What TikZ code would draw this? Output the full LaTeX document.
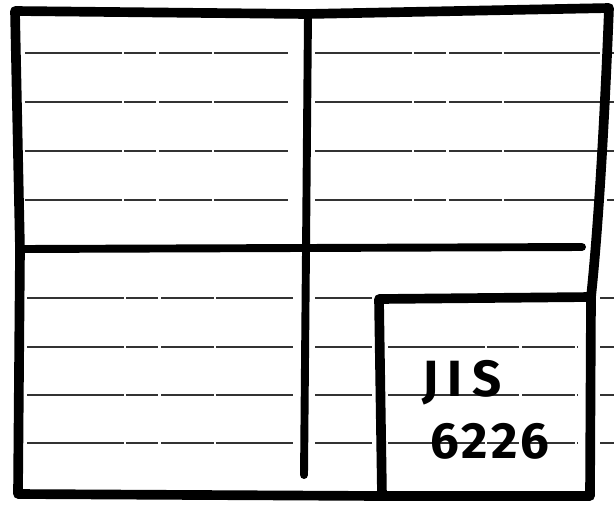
\documentclass[tikz,border=0pt]{standalone}
\usepackage{fontspec}
\usepackage{xcolor}
\usepackage{tikz}
\newfontfamily\handfont{Fira Sans}

\begin{document}
\begin{tikzpicture}[
        x=0.02cm, y=-0.02cm,
        frame/.style={draw=black, line width=5.5pt, line cap=round, line join=round},
        divider/.style={draw=black, line width=4.5pt, line cap=round},
        ruled/.style={draw=black!80, line width=0.9pt, dash pattern=on 55pt off 1.5pt on 18pt off 2pt on 30pt off 1pt},
        scribble/.style={font=\handfont\bfseries\fontsize{29}{31}\selectfont, inner sep=0pt, text=black}
    ]
        \useasboundingbox (0,0) rectangle (614,508);

        % Ruled paper lines
        \foreach \y in {53,102,151,200} {
            \draw[ruled] (25,\y) -- (288,\y);
            \draw[ruled] (315,\y) -- (600,\y);
            \draw[ruled] (607,\y) -- (614,\y);
        }
        \foreach \y in {298,347,395,443} {
            \draw[ruled] (27,\y) -- (293,\y);
            \draw[ruled] (315,\y) -- (372,\y);
            \draw[ruled] (388,\y) -- (578,\y);
            \draw[ruled] (600,\y) -- (614,\y);
        }
        \draw[ruled] (424,492) -- (540,492);

        % Outer frame
        \coordinate (tl) at (15,11);
        \coordinate (tm) at (307,14);
        \coordinate (tr) at (609,8);
        \coordinate (br) at (590,496);
        \coordinate (bl) at (18,494);
        \draw[frame] (tl) -- (tm) -- (tr) .. controls (603,160) and (596,250) .. (591,297) -- (br) -- (382,496) -- (bl) -- (20,250) -- cycle;

        % Panel dividers
        \coordinate (vtop) at (308,14);
        \coordinate (vbot) at (304,475);
        \coordinate (hleft) at (19,249);
        \coordinate (hright) at (582,247);
        \draw[divider] (vtop) -- (306,250) -- (vbot);
        \draw[divider] (hleft) -- (hright);

        % Label box
        \coordinate (boxtl) at (379,299);
        \coordinate (boxtr) at (591,297);
        \coordinate (boxbl) at (382,496);
        \draw[frame] (boxtr) -- (boxtl) -- (boxbl);

        % Label text
        \node[scribble] (series) at (462,383) {\addfontfeatures{LetterSpace=18}JIS};
        \node[scribble] (number) at (490,441) {\addfontfeatures{LetterSpace=6}6226};
\end{tikzpicture}
\end{document}
